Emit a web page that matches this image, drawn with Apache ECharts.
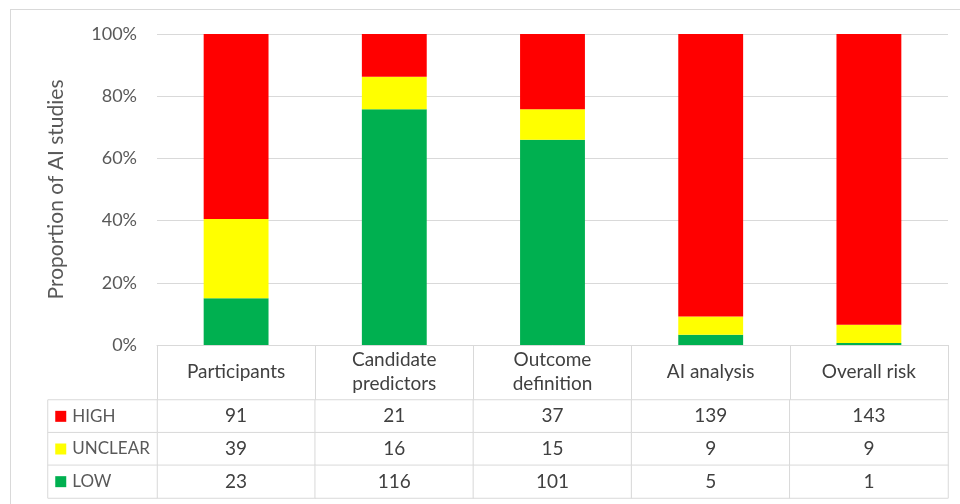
<!DOCTYPE html>
<html>
<head>
<meta charset="utf-8">
<script src="https://cdn.jsdelivr.net/npm/echarts@6/dist/echarts.min.js"></script>
<style>
  html, body { margin: 0; padding: 0; background: #fff; }
  #wrap { position: relative; width: 960px; height: 504px; overflow: hidden; }
  #frame { position: absolute; left: 10px; top: 9px; width: 1000px; height: 600px; border: 1px solid #d9d9d9; box-sizing: border-box; }
  #chart { position: absolute; left: 0; top: 0; width: 960px; height: 504px; }
</style>
</head>
<body>
<div id="wrap">
  <div id="frame"></div>
  <div id="chart"></div>
</div>
<script>
// Risk-of-bias judgements per domain (number of AI studies)
const categories = ['Participants', 'Candidate\npredictors', 'Outcome\ndefinition', 'AI analysis', 'Overall risk'];
const rowNames = ['HIGH', 'UNCLEAR', 'LOW'];
const high = [91, 21, 37, 139, 143];
const unclear = [39, 16, 15, 9, 9];
const low = [23, 116, 101, 5, 1];
const yTicks = [0, 20, 40, 60, 80, 100];

const rowColors = { HIGH: '#ff0000', UNCLEAR: '#ffff00', LOW: '#00b050' };
const FONT = 'Lato, "Open Sans", sans-serif';
const GRID_LINE = '#d9d9d9';

const totals = categories.map((_, i) => high[i] + unclear[i] + low[i]);
const pct = arr => arr.map((v, i) => v / totals[i] * 100);

// cell data for the table under the bars
const rowValues = { HIGH: high, UNCLEAR: unclear, LOW: low };
const tableCells = [];
rowNames.forEach((r, ri) => {
  categories.forEach((c, ci) => tableCells.push([ci, ri, rowValues[r][ci]]));
});
// row-header column: third value is the row index
const legendCells = rowNames.map((r, ri) => [0, ri, ri]);

const chart = echarts.init(document.getElementById('chart'), null, { renderer: 'canvas' });

const barSeries = (name, data, color) => ({
  name, type: 'bar', stack: 'risk', data: pct(data),
  xAxisIndex: 0, yAxisIndex: 0,
  barWidth: '41%',
  itemStyle: { color },
  silent: true
});

const swatch = color => ({ backgroundColor: color, width: 11, height: 11 });

chart.setOption({
  animation: false,
  backgroundColor: 'transparent',
  textStyle: { fontFamily: FONT },
  grid: [
    { left: 157, right: 12, top: 34, bottom: 159 },
    { left: 157, right: 12, top: 400, bottom: 6 },
    { left: 48, right: 803, top: 400, bottom: 6 }
  ],
  xAxis: [
    {
      type: 'category', gridIndex: 0, data: categories,
      axisLine: { lineStyle: { color: GRID_LINE, width: 1 } },
      axisTick: { show: true, interval: 0, length: 55, lineStyle: { color: GRID_LINE } },
      axisLabel: {
        interval: 0, margin: 27, verticalAlign: 'middle',
        color: '#404040', fontSize: 19, lineHeight: 24, fontFamily: FONT
      }
    },
    { type: 'category', gridIndex: 1, data: categories, show: false },
    { type: 'category', gridIndex: 2, data: ['row'], show: false }
  ],
  yAxis: [
    {
      type: 'value', gridIndex: 0, min: yTicks[0], max: yTicks[yTicks.length - 1], interval: 20,
      name: 'Proportion of AI studies', nameLocation: 'middle', nameGap: 90, nameRotate: 90,
      nameTextStyle: { color: '#595959', fontSize: 21, fontFamily: FONT },
      axisLine: { show: false }, axisTick: { show: false },
      axisLabel: { formatter: '{value}%', color: '#595959', fontSize: 18, margin: 20, fontFamily: FONT },
      splitLine: { lineStyle: { color: GRID_LINE, width: 1 } }
    },
    { type: 'category', gridIndex: 1, data: rowNames, inverse: true, show: false },
    { type: 'category', gridIndex: 2, data: rowNames, inverse: true, show: false }
  ],
  series: [
    barSeries('LOW', low, rowColors.LOW),
    barSeries('UNCLEAR', unclear, rowColors.UNCLEAR),
    barSeries('HIGH', high, rowColors.HIGH),
    {
      type: 'heatmap', xAxisIndex: 1, yAxisIndex: 1, data: tableCells, silent: true,
      itemStyle: { color: '#ffffff', borderColor: GRID_LINE, borderWidth: 1 },
      label: {
        show: true, color: '#404040', fontSize: 19, fontFamily: FONT,
        formatter: p => String(p.value[2])
      },
      emphasis: { disabled: true }
    },
    {
      type: 'heatmap', xAxisIndex: 2, yAxisIndex: 2, data: legendCells, silent: true,
      itemStyle: { color: '#ffffff', borderColor: GRID_LINE, borderWidth: 1 },
      label: {
        show: true, position: 'insideLeft', distance: 8,
        color: '#595959', fontSize: 17, fontFamily: FONT,
        formatter: p => {
          const name = rowNames[p.value[2]];
          return '{' + name + '|}{gap|}' + name;
        },
        rich: {
          HIGH: swatch(rowColors.HIGH),
          UNCLEAR: swatch(rowColors.UNCLEAR),
          LOW: swatch(rowColors.LOW),
          gap: { width: 6 }
        }
      },
      emphasis: { disabled: true }
    }
  ]
});
</script>
</body>
</html>
